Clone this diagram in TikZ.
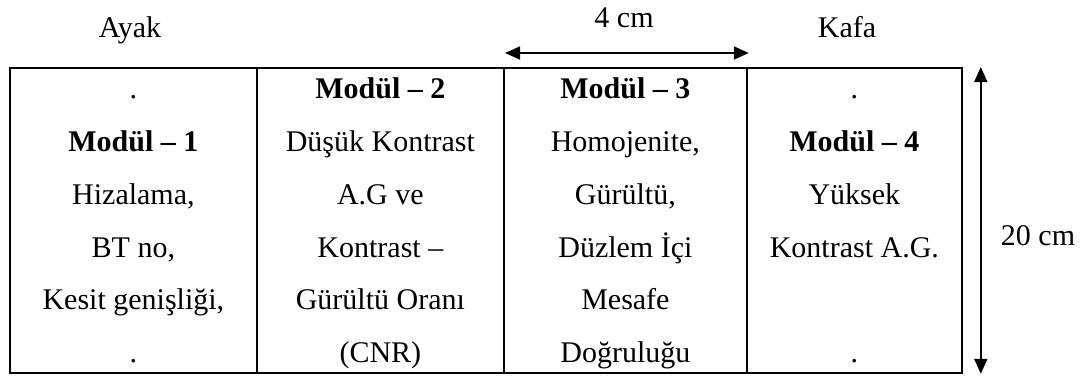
\documentclass[tikz,border=0pt]{standalone}
\usepackage{fontspec}
\setmainfont{Liberation Serif}
\usetikzlibrary{arrows.meta}
\newcommand\topst{\rule{0pt}{28pt}}
\newcommand\botst{\rule[-7.5pt]{0pt}{7.5pt}}
\begin{document}
\begin{tikzpicture}[x=1pt,y=-1pt,
  col/.style={draw, line width=1.8pt, minimum height=305pt, inner sep=0pt,
    align=center, anchor=north west, font=\fontsize{30}{52.7}\selectfont},
  lbl/.style={font=\fontsize{30}{36}\selectfont, inner sep=0pt, anchor=base},
  dimarrow/.style={line width=1.8pt,
    {Triangle[length=15pt,width=13pt]}-{Triangle[length=15pt,width=13pt]}}]
\useasboundingbox (0,0) rectangle (1090,378);
\node[col, minimum width=247pt] (m1) at (9,67)
  {.\topst\\ \textbf{Modül – 1}\\ Hizalama,\\ BT no,\\ Kesit genişliği,\\ .\botst};
\node[col, minimum width=247pt] (m2) at (256,67)
  {\textbf{Modül – 2}\topst\\ Düşük Kontrast\\ A.G ve\\ Kontrast –\\ Gürültü Oranı\\ (CNR)\botst};
\node[col, minimum width=243pt] (m3) at (503,67)
  {\textbf{Modül – 3}\topst\\ Homojenite,\\ Gürültü,\\ Düzlem İçi\\ Mesafe\\ Doğruluğu\botst};
\node[col, minimum width=215pt] (m4) at (746,67)
  {.\topst\\ \textbf{Modül – 4}\\ Yüksek\\ Kontrast A.G.\\ \mbox{}\\ .\botst};
\node[lbl] (ayak) at (130,37) {Ayak};
\node[lbl] (kafa) at (847,37) {Kafa};
\coordinate (h1) at ([shift={(2,-14)}]m3.north west);
\coordinate (h2) at ([shift={(1,-14)}]m3.north east);
\draw[dimarrow] (h1) -- (h2);
\node[lbl] (w) at (624,27) {4 cm};
\coordinate (v1) at ([xshift=18pt]m4.north east);
\coordinate (v2) at ([xshift=18pt]m4.south east);
\draw[dimarrow] (v1) -- (v2);
\node[lbl] (hgt) at (1038,245) {20 cm};
\end{tikzpicture}
\end{document}
